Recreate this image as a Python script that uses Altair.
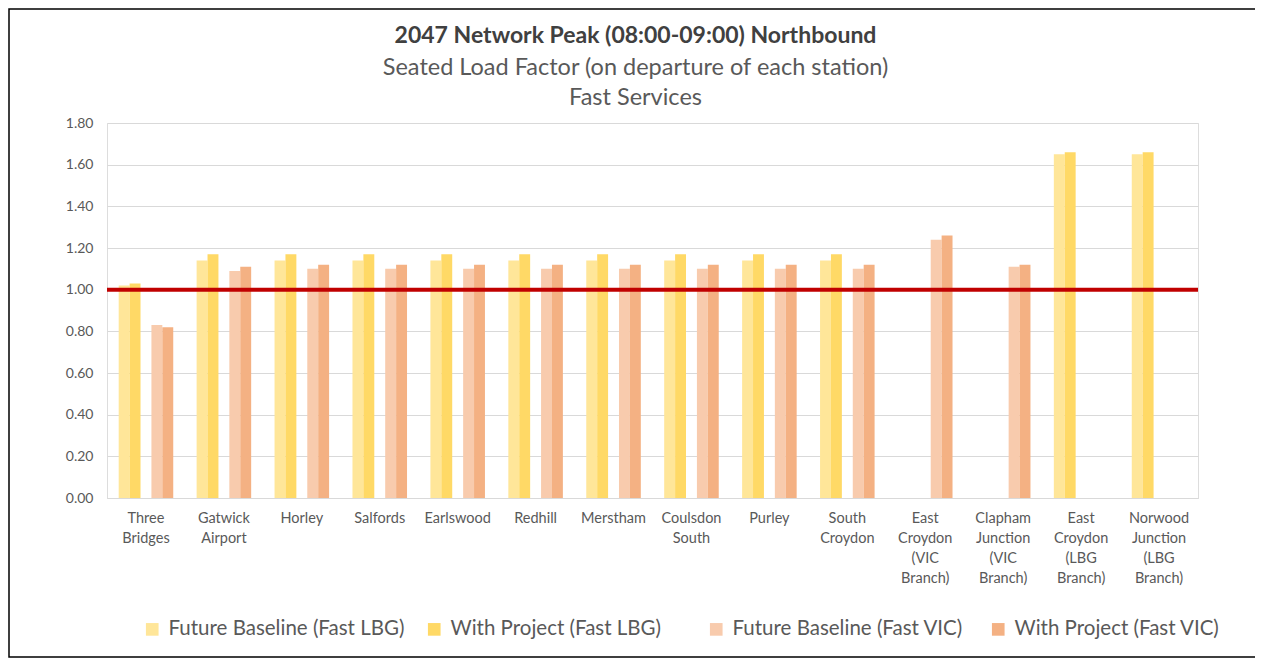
import altair as alt
import pandas as pd

stations = [
    "Three Bridges", "Gatwick Airport", "Horley", "Salfords", "Earlswood",
    "Redhill", "Merstham", "Coulsdon South", "Purley", "South Croydon",
    "East Croydon (VIC Branch)", "Clapham Junction (VIC Branch)",
    "East Croydon (LBG Branch)", "Norwood Junction (LBG Branch)",
]
series_names = [
    "Future Baseline (Fast LBG)", "With Project (Fast LBG)",
    "Future Baseline (Fast VIC)", "With Project (Fast VIC)",
]
fb_lbg = [1.02, 1.14, 1.14, 1.14, 1.14, 1.14, 1.14, 1.14, 1.14, 1.14, None, None, 1.65, 1.65]
wp_lbg = [1.03, 1.17, 1.17, 1.17, 1.17, 1.17, 1.17, 1.17, 1.17, 1.17, None, None, 1.66, 1.66]
fb_vic = [0.83, 1.09, 1.10, 1.10, 1.10, 1.10, 1.10, 1.10, 1.10, 1.10, 1.24, 1.11, None, None]
wp_vic = [0.82, 1.11, 1.12, 1.12, 1.12, 1.12, 1.12, 1.12, 1.12, 1.12, 1.26, 1.12, None, None]
threshold = [1.0]
y_ticks = [0, 0.2, 0.4, 0.6, 0.8, 1.0, 1.2, 1.4, 1.6, 1.8]
colors = ["#FFE699", "#FFD966", "#F8CBAD", "#F4B183"]

rows = []
for name, vals in zip(series_names, [fb_lbg, wp_lbg, fb_vic, wp_vic]):
    for st, v in zip(stations, vals):
        if v is not None:
            rows.append({"station": st, "series": name, "value": v})
df = pd.DataFrame(rows)

offset_domain = [series_names[0], series_names[1], "gap", series_names[2], series_names[3]]

FONT = "Lato"
GREY = "#595959"

bars = alt.Chart(df).mark_bar().encode(
    x=alt.X(
        "station:N",
        sort=stations,
        scale=alt.Scale(paddingInner=0.3, paddingOuter=0.15),
        axis=alt.Axis(
            title=None, labelAngle=0, labelExpr="split(datum.label, ' ')",
            labelFont=FONT, labelFontSize=14.5, labelColor=GREY, labelLineHeight=20,
            labelPadding=13, ticks=False, domainColor="#D9D9D9", labelBaseline="top",
        ),
    ),
    xOffset=alt.XOffset("series:N", scale=alt.Scale(domain=offset_domain, paddingInner=0, paddingOuter=0)),
    y=alt.Y(
        "value:Q",
        scale=alt.Scale(domain=[0, 1.8]),
        axis=alt.Axis(
            title=None, values=y_ticks, format=".2f", domain=False, ticks=False,
            labelFont=FONT, labelFontSize=14, labelColor=GREY, labelPadding=14,
            gridColor="#D9D9D9", gridWidth=1.2,
        ),
    ),
    color=alt.Color(
        "series:N",
        scale=alt.Scale(domain=series_names, range=colors),
        legend=alt.Legend(
            orient="none", legendX=35, legendY=496, direction="horizontal", columns=4,
            gridAlign="all",
            title=None, symbolType="square", symbolSize=160, symbolStrokeWidth=0,
            labelFont=FONT, labelFontSize=20.5, labelColor=GREY, columnPadding=19,
            labelOffset=6, labelLimit=400,
        ),
    ),
)

rule = alt.Chart(pd.DataFrame({"threshold": threshold})).mark_rule(
    color="#C00000", strokeWidth=4
).encode(y="threshold:Q")

border = alt.Chart(pd.DataFrame({"threshold": threshold})).mark_rect(
    fill=None, stroke="#000000", strokeWidth=1.5
).encode(x=alt.value(-98), x2=alt.value(1151), y=alt.value(-114), y2=alt.value(534))

chart = alt.layer(bars, rule, border).properties(
    width=1091,
    height=375,
    padding={"left": 99, "top": 115, "right": 57, "bottom": 160},
    autosize=alt.AutoSizeParams(type="none"),
    title=alt.TitleParams(
        text="2047 Network Peak (08:00-09:00) Northbound",
        subtitle=["Seated Load Factor (on departure of each station)", "Fast Services"],
        font=FONT, fontSize=23, fontWeight="bold", color="#404040",
        subtitleFont=FONT, subtitleFontSize=23.5, subtitleColor=GREY,
        subtitleLineHeight=30, subtitlePadding=8,
        anchor="middle", frame="group", dx=-17, offset=-101,
    ),
).configure_view(stroke=None).configure(background="white")

chart.save("out.html", embed_options={"renderer": "svg", "actions": False})
